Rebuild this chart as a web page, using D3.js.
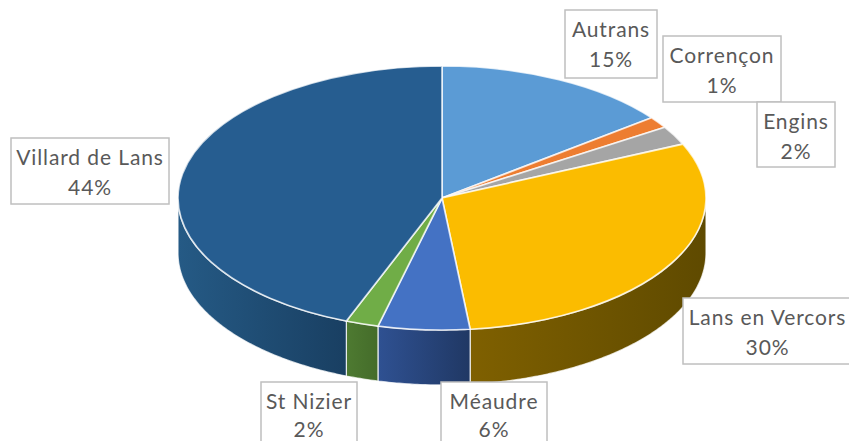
<!DOCTYPE html>
<html>
<head>
<meta charset="utf-8">
<script src="https://cdn.jsdelivr.net/npm/d3@7"></script>
<style>
  html, body { margin: 0; padding: 0; background: #fff; overflow: hidden; }
  text { font-family: Lato, "Open Sans", sans-serif; font-size: 21px; letter-spacing: 0.9px; fill: #595959; text-anchor: middle; }
</style>
</head>
<body>
<div id="chart"></div>
<script>
const categories = ["Autrans", "Corrençon", "Engins", "Lans en Vercors", "Méaudre", "St Nizier", "Villard de Lans"];
const shares = [14.6, 1.4, 2.3, 30.0, 5.6, 2.0, 44.1];
const topColors = ["#5b9bd5", "#ed7d31", "#a5a5a5", "#fbbc00", "#4472c4", "#70ad47", "#265d90"];
const sideLeft = ["#3d6d99", "#a65620", "#737373", "#7f6000", "#2f5192", "#4e7a31", "#255a85"];
const sideRight = ["#3d6d99", "#a65620", "#737373", "#5f4a00", "#203864", "#446c2a", "#193f62"];

// label boxes: left, top, right, bottom
const labelBoxes = [
  [565, 10, 657, 78],
  [663, 36, 781, 102],
  [757, 102, 835, 167],
  [683, 298, 852, 364],
  [441, 382, 547, 450],
  [261, 382, 357, 450],
  [11, 138, 169, 204]
];

const width = 849;
const height = 441;
const cx = 442;
const cy = 198;
const rx = 264;
const ry = 132;
const depth = 55;

const svg = d3.select("#chart").append("svg")
    .attr("width", width)
    .attr("height", height)
    .attr("viewBox", [0, 0, width, height])
    .style("display", "block");

const slices = d3.pie().sort(null).value(d => d)(shares);
const defs = svg.append("defs");

// side wall, only the part of a slice facing the viewer (90deg to 270deg)
const frontStart = Math.PI / 2;
const frontEnd = Math.PI * 3 / 2;
const px = a => cx + rx * Math.sin(a);
const py = a => cy - ry * Math.cos(a);
const side = d3.area().x(px).y0(py).y1(a => py(a) + depth);

const sides = svg.append("g");
slices.forEach((s, i) => {
  const a0 = Math.max(s.startAngle, frontStart);
  const a1 = Math.min(s.endAngle, frontEnd);
  if (a1 <= a0) return;
  const grad = defs.append("linearGradient")
      .attr("id", "side" + i)
      .attr("gradientUnits", "userSpaceOnUse")
      .attr("x1", Math.min(px(a0), px(a1)))
      .attr("x2", Math.max(px(a0), px(a1)))
      .attr("y1", 0).attr("y2", 0);
  grad.append("stop").attr("offset", 0).attr("stop-color", sideLeft[i]);
  grad.append("stop").attr("offset", 1).attr("stop-color", sideRight[i]);
  sides.append("path")
      .attr("d", side(d3.range(a0, a1, 0.01).concat(a1)))
      .attr("fill", `url(#side${i})`)
      .attr("stroke", "#fff")
      .attr("stroke-opacity", 0.75)
      .attr("stroke-width", 1.3);
});

// top face: plain d3 arcs squashed into an ellipse
const arc = d3.arc().innerRadius(0).outerRadius(rx);
svg.append("g")
    .attr("transform", `translate(${cx},${cy}) scale(1,${ry / rx})`)
  .selectAll("path")
  .data(slices)
  .join("path")
    .attr("d", arc)
    .attr("fill", (d, i) => topColors[i])
    .attr("stroke", "#fff")
    .attr("stroke-opacity", 0.75)
    .attr("stroke-width", 1.7)
    .attr("vector-effect", "non-scaling-stroke");

const labels = svg.append("g")
  .selectAll("g")
  .data(categories)
  .join("g");

labels.append("rect")
    .attr("x", (d, i) => labelBoxes[i][0])
    .attr("y", (d, i) => labelBoxes[i][1])
    .attr("width", (d, i) => labelBoxes[i][2] - labelBoxes[i][0])
    .attr("height", (d, i) => labelBoxes[i][3] - labelBoxes[i][1])
    .attr("fill", "#fff")
    .attr("stroke", "#bfbfbf")
    .attr("stroke-width", 1.5);

labels.append("text")
    .attr("x", (d, i) => (labelBoxes[i][0] + labelBoxes[i][2]) / 2)
    .attr("y", (d, i) => labelBoxes[i][1] + 27)
    .text(d => d);

// the two bottom boxes run off the page, keep their second line inside it
labels.append("text")
    .attr("x", (d, i) => (labelBoxes[i][0] + labelBoxes[i][2]) / 2)
    .attr("y", (d, i) => Math.min(labelBoxes[i][1] + 57, 436.5))
    .text((d, i) => Math.round(shares[i]) + "%");
</script>
</body>
</html>
